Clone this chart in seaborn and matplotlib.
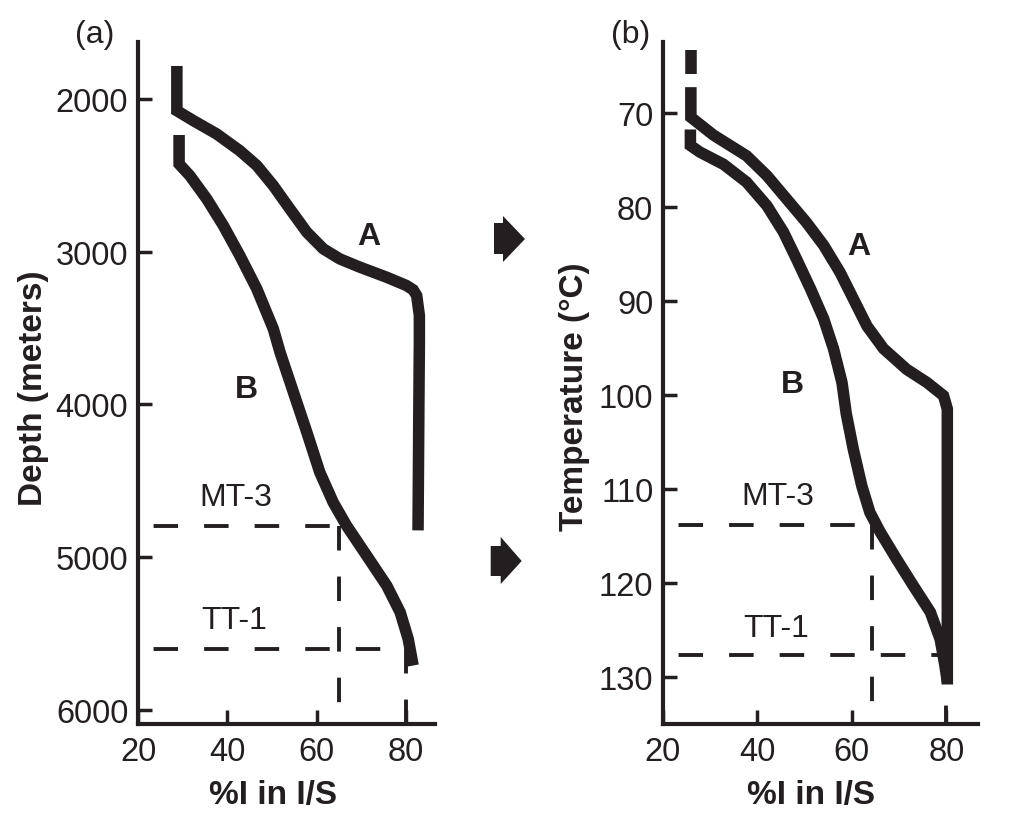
import numpy as np
import pandas as pd
import matplotlib
matplotlib.use('Agg')
import matplotlib.pyplot as plt
from matplotlib.patches import Polygon
import seaborn as sns

# ---------------- data ----------------
# Panel (a): %I in I/S versus depth (m)
a_A_pct = [28.7, 28.7, 32.4, 37.6, 42.8, 46.6, 50.3, 54.0, 57.8, 61.5, 65.2, 69.7,
           75.7, 80.1, 81.6, 82.4, 83.0, 83.0, 82.9, 82.7]
a_A_depth = [1784, 2077, 2142, 2229, 2339, 2436, 2568, 2720, 2873, 2982, 3048, 3102,
             3168, 3222, 3250, 3288, 3418, 3593, 3965, 4826]
a_B_pct = [29.2, 29.2, 31.6, 35.4, 39.1, 42.8, 46.6, 50.3, 51.8, 55.3, 57.8, 60.7,
           63.7, 66.7, 71.2, 75.7, 78.7, 80.5, 81.6]
a_B_depth = [2236, 2426, 2502, 2655, 2829, 3026, 3244, 3506, 3659, 3965, 4183, 4445,
             4642, 4795, 4991, 5188, 5362, 5537, 5711]

# Panel (b): %I in I/S versus temperature (deg C)
b_A_top_pct = [25.9, 25.9]
b_A_top_temp = [63.4, 65.9]
b_A_pct = [25.9, 25.9, 30.7, 37.7, 42.0, 46.2, 50.4, 54.0, 57.5, 60.3, 63.2, 66.7,
           71.6, 75.9, 79.4, 80.2, 80.2]
b_A_temp = [67.3, 70.5, 72.4, 74.6, 76.7, 79.2, 81.7, 84.1, 87.0, 89.8, 92.7, 95.1,
            97.3, 98.7, 100.1, 101.5, 130.8]
b_B_pct = [25.8, 25.8, 27.8, 32.8, 37.7, 42.0, 45.5, 48.3, 51.2, 54.0, 56.1, 57.9,
           58.8, 60.3, 62.1, 63.8, 66.0, 69.5, 73.0, 76.6, 78.7, 79.7, 80.2]
b_B_temp = [71.8, 73.5, 74.2, 75.5, 77.4, 79.9, 82.7, 85.6, 88.7, 91.9, 95.1, 98.7,
            102.0, 105.8, 109.7, 112.5, 114.6, 117.5, 120.3, 123.1, 126.0, 128.8, 130.5]

# Well markers
wells = ['MT-3', 'TT-1']
a_well_depth = [4800, 5600]
a_well_pct = [65, 80]
b_well_temp = [113.8, 127.7]
b_well_pct = [64.2, 80]

# Ticks
x_ticks = [20, 40, 60, 80]
a_y_ticks = [2000, 3000, 4000, 5000, 6000]
b_y_ticks = [70, 80, 90, 100, 110, 120, 130]

# ---------------- style ----------------
INK = '#231f20'
sns.set_style('ticks')
plt.rcParams['font.family'] = ['Liberation Sans', 'DejaVu Sans']
plt.rcParams['text.color'] = INK
plt.rcParams['axes.labelcolor'] = INK

W, H = 1013, 828
fig = plt.figure(figsize=(W / 100, H / 100), dpi=100)
fig.patch.set_facecolor('white')

ax_a = fig.add_axes([138 / W, 1 - 725 / H, 297 / W, 682 / H])
ax_b = fig.add_axes([663 / W, 1 - 725 / H, 315 / W, 682 / H])

ax_a.set_xlim(20, 86.5)
ax_a.set_ylim(6094, 1627)
ax_b.set_xlim(20, 86.7)
ax_b.set_ylim(135.0, 62.5)

DASH_LW = 2.8


def guides(ax, vals, pcts):
    ybot = ax.get_ylim()[0]
    for v, p in zip(vals, pcts):
        ax.plot([20, p], [v, v], color=INK, lw=DASH_LW,
                linestyle=(9.0, (6.3, 6.7)), zorder=2, dash_capstyle='butt')
        ax.plot([p, p], [v, ybot], color=INK, lw=DASH_LW,
                linestyle=(0, (6.3, 6.7)), zorder=2, dash_capstyle='butt')


def curve(ax, pct, val):
    df = pd.DataFrame({'pct': pct, 'val': val})
    sns.lineplot(data=df, x='pct', y='val', sort=False, estimator=None, ax=ax,
                 color=INK, linewidth=8.3, solid_capstyle='butt',
                 solid_joinstyle='miter', zorder=3)


guides(ax_a, a_well_depth, a_well_pct)
guides(ax_b, b_well_temp, b_well_pct)

curve(ax_a, a_A_pct, a_A_depth)
curve(ax_a, a_B_pct, a_B_depth)
curve(ax_b, b_A_top_pct, b_A_top_temp)
curve(ax_b, b_A_pct, b_A_temp)
curve(ax_b, b_B_pct, b_B_temp)

for ax, yt in ((ax_a, a_y_ticks), (ax_b, b_y_ticks)):
    sns.despine(ax=ax)
    ax.set_facecolor('white')
    ax.grid(False)
    for s in ('left', 'bottom'):
        ax.spines[s].set_linewidth(3.0)
        ax.spines[s].set_color(INK)
    ax.set_xticks(x_ticks)
    ax.set_yticks(yt)
    ax.tick_params(direction='in', length=10, width=2.5, colors=INK,
                   labelsize=23.5, labelcolor=INK)
    ax.tick_params(axis='y', pad=7)
    ax.tick_params(axis='x', pad=9)

ax_a.set_xlabel('%I in I/S', fontsize=24, fontweight='bold')
ax_a.set_ylabel('Depth (meters)', fontsize=24, fontweight='bold')
ax_b.set_xlabel('%I in I/S', fontsize=24, fontweight='bold')
ax_b.set_ylabel('Temperature (\u00b0C)', fontsize=24, fontweight='bold')
ax_a.xaxis.set_label_coords(0.453, -0.080)
ax_b.xaxis.set_label_coords(0.469, -0.080)
ax_a.yaxis.set_label_coords(-0.30, 0.494)
ax_b.yaxis.set_label_coords(-0.232, 0.482)

# curve and well annotations
ax_a.text(71.7, 2897, 'A', fontsize=23, fontweight='bold', ha='center', va='center')
ax_a.text(44.2, 3899, 'B', fontsize=23, fontweight='bold', ha='center', va='center')
ax_b.text(61.4, 84.2, 'A', fontsize=23, fontweight='bold', ha='center', va='center')
ax_b.text(47.4, 98.9, 'B', fontsize=23, fontweight='bold', ha='center', va='center')
ax_a.text(41.9, 4609, wells[0], fontsize=23, ha='center', va='center')
ax_a.text(41.5, 5416, wells[1], fontsize=23, ha='center', va='center')
ax_b.text(44.3, 110.8, wells[0], fontsize=23, ha='center', va='center')
ax_b.text(43.9, 124.8, wells[1], fontsize=23, ha='center', va='center')

fig.text(95 / W, 1 - 35 / H, '(a)', fontsize=23, ha='center', va='center')
fig.text(631 / W, 1 - 35 / H, '(b)', fontsize=23, ha='center', va='center')


# decorative arrows between panels
def arrow(x0, x1, x2, ytop, ybot, yhtop, yhbot, ytip):
    pts = [(x0, ytop), (x1, ytop), (x1, yhtop), (x2, ytip), (x1, yhbot), (x1, ybot), (x0, ybot)]
    pts = [(x / W, 1 - y / H) for x, y in pts]
    fig.patches.append(Polygon(pts, closed=True, facecolor=INK, edgecolor='none',
                               transform=fig.transFigure, figure=fig))


arrow(494, 503, 525, 224, 255, 217, 263, 240)
arrow(490.7, 500.7, 521.7, 547, 577, 538, 585, 562)

fig.savefig('out.png', dpi=100, facecolor='white')
